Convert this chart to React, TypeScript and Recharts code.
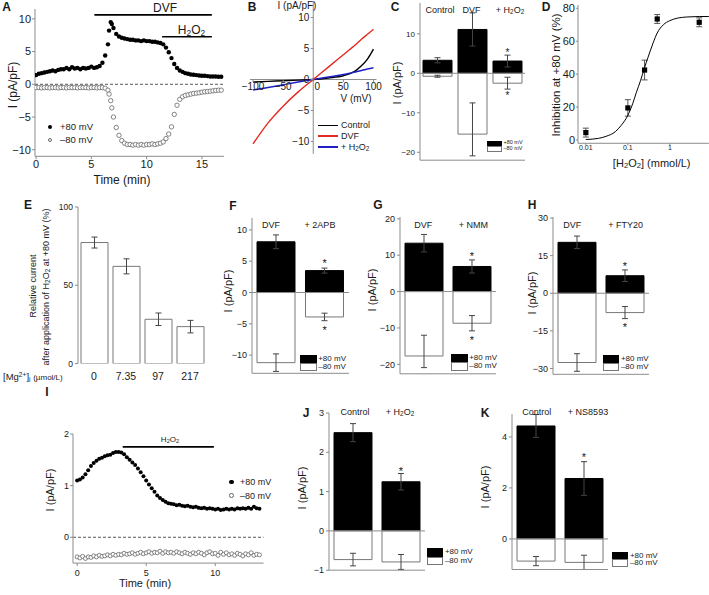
import React from 'react';
import {
  BarChart,
  Bar,
  ErrorBar,
  XAxis,
  YAxis,
  ReferenceLine,
  ReferenceDot,
  ScatterChart,
  Scatter,
  LineChart,
  Line,
} from 'recharts';

const FONT = '"Liberation Sans", Arial, Helvetica, sans-serif';
const INK = '#1a1a1a';
const AXIS = '#8c8c8c';
const M = 12;

// ---- A: time course, DVF then H2O2
const aTime = [0, 0.25, 0.5, 0.75, 1, 1.25, 1.5, 1.75, 2, 2.25, 2.5, 2.75, 3, 3.25, 3.5, 3.75, 4, 4.25, 4.5, 4.75, 5, 5.25, 5.5, 5.75, 6, 6.25, 6.5, 6.6, 6.75, 6.85, 7, 7.25, 7.5, 7.75, 8, 8.25, 8.5, 8.75, 9, 9.25, 9.5, 9.75, 10, 10.25, 10.5, 10.75, 11, 11.25, 11.5, 11.75, 12, 12.25, 12.5, 12.75, 13, 13.25, 13.5, 13.75, 14, 14.25, 14.5, 14.75, 15, 15.25, 15.5, 15.75, 16, 16.25, 16.5, 16.75];
const aPos80 = [1.4, 1.6, 1.7, 1.8, 1.9, 2.0, 2.1, 2.0, 2.2, 2.3, 2.3, 2.5, 2.3, 2.6, 2.4, 2.5, 2.3, 2.5, 2.4, 2.5, 2.7, 2.5, 2.6, 2.8, 3.3, 4.4, 6.1, 8.2, 9.5, 9.2, 8.6, 7.7, 7.3, 7.1, 7.0, 6.9, 6.8, 6.8, 6.7, 6.7, 6.6, 6.7, 6.6, 6.6, 6.5, 6.5, 6.4, 6.3, 6.1, 5.6, 4.9, 4.0, 3.1, 2.5, 2.1, 1.9, 1.7, 1.6, 1.5, 1.45, 1.4, 1.35, 1.3, 1.3, 1.25, 1.2, 1.2, 1.2, 1.15, 1.15];
const aNeg80 = [-0.5, -0.5, -0.55, -0.5, -0.5, -0.55, -0.5, -0.5, -0.55, -0.5, -0.5, -0.55, -0.5, -0.5, -0.5, -0.55, -0.5, -0.5, -0.5, -0.55, -0.5, -0.5, -0.55, -0.5, -0.5, -0.6, -0.9, -1.5, -2.5, -3.6, -5.0, -6.6, -7.8, -8.6, -9.0, -9.2, -9.2, -9.3, -9.2, -9.3, -9.2, -9.3, -9.2, -9.2, -9.1, -9.2, -9.1, -9.0, -8.8, -8.3, -7.6, -6.5, -4.6, -3.2, -2.3, -1.9, -1.7, -1.6, -1.5, -1.4, -1.35, -1.3, -1.2, -1.15, -1.1, -1.05, -1.0, -0.95, -0.9, -0.9];
const aDvf = { from: 5.27, to: 15.9 };
const aH2o2 = { from: 11.4, to: 15.9 };

// ---- B: I-V relations
const bVolt = [-100, -75, -50, -25, 0, 25, 50, 60, 70, 80, 90, 100];
const bControl = [-0.4, -0.3, -0.2, -0.1, 0, 0.25, 0.6, 0.9, 1.4, 2.2, 3.3, 4.9];
const bDvf = [-10.4, -7.0, -4.3, -2.0, 0, 2.0, 4.0, 4.8, 5.6, 6.5, 7.3, 8.1];
const bH2o2 = [-1.7, -1.3, -0.85, -0.4, 0, 0.4, 0.8, 1.0, 1.2, 1.45, 1.7, 1.9];
const bTicksX = [-100, -50, 0, 50, 100];
const bTicksY = [10, 5, 0, -5, -10];

// ---- C
const cCats = ['Control', 'DVF', 'H2O2'];
const cPos = [3.3, 11.1, 3.1];
const cPosErr = [0.65, 4.2, 1.5];
const cNeg = [-0.75, -15.4, -2.5];
const cNegErr: (number | number[])[] = [0.25, [5.5, 7.9], 1.5];
const cStarUp = [false, false, true];
const cStarDown = [false, false, true];

// ---- D: dose response
const dConc = [0.01, 0.1, 0.25, 0.5, 5];
const dInhib = [4.5, 19.5, 42.5, 73.5, 71.5];
const dErr = [2.7, 5, 6, 2.7, 2.7];
const dFitX = [0.01, 0.02, 0.03, 0.05, 0.07, 0.1, 0.13, 0.16, 0.2, 0.25, 0.3, 0.4, 0.5, 0.7, 1, 1.5, 2, 3, 5, 8.5];
const dFitY = [0.3, 1.0, 2.2, 5.0, 9, 15, 22, 29, 36, 44, 50, 59, 65, 70, 72.5, 74, 74.5, 74.8, 75, 75];
const dTicks = [0.01, 0.1, 1];

// ---- E: Mg dependence
const eCats = ['0', '7.35', '97', '217'];
const eVals = [77.3, 62.1, 28.3, 23.6];
const eErr = [3.5, 4.8, 4, 4];

// ---- F, G, H
const fCats = ['DVF', '2APB'];
const fPos = [8.1, 3.5];
const fPosErr = [1.1, 0.4];
const fNeg = [-11.2, -3.9];
const fNegErr = [1.4, 0.6];

const gCats = ['DVF', 'NMM'];
const gPos = [13.3, 6.9];
const gPosErr = [2.4, 1.8];
const gNeg = [-17.7, -8.7];
const gNegErr: (number | number[])[] = [[3.2, 5.7], 2.1];

const hCats = ['DVF', 'FTY20'];
const hPos = [20.3, 7.0];
const hPosErr = [2.5, 2.3];
const hNeg = [-27.6, -7.7];
const hNegErr = [3.5, 2.4];

// ---- I: time course, H2O2 alone
const iTime = [0, 0.2, 0.4, 0.6, 0.8, 1, 1.2, 1.4, 1.6, 1.8, 2, 2.2, 2.4, 2.6, 2.8, 3, 3.2, 3.4, 3.6, 3.8, 4, 4.2, 4.4, 4.6, 4.8, 5, 5.2, 5.4, 5.6, 5.8, 6, 6.2, 6.4, 6.6, 6.8, 7, 7.2, 7.4, 7.6, 7.8, 8, 8.2, 8.4, 8.6, 8.8, 9, 9.2, 9.4, 9.6, 9.8, 10, 10.2, 10.4, 10.6, 10.8, 11, 11.2, 11.4, 11.6, 11.8, 12, 12.2, 12.4, 12.6, 12.8, 13, 13.2];
const iPos80 = [1.1, 1.12, 1.16, 1.22, 1.3, 1.38, 1.44, 1.48, 1.52, 1.54, 1.57, 1.59, 1.6, 1.63, 1.65, 1.65, 1.64, 1.61, 1.55, 1.5, 1.45, 1.4, 1.33, 1.26, 1.18, 1.1, 1.02, 0.95, 0.88, 0.81, 0.76, 0.72, 0.69, 0.66, 0.65, 0.64, 0.62, 0.63, 0.61, 0.6, 0.61, 0.59, 0.58, 0.59, 0.57, 0.56, 0.57, 0.55, 0.56, 0.55, 0.54, 0.55, 0.53, 0.54, 0.55, 0.54, 0.55, 0.54, 0.56, 0.55, 0.56, 0.55, 0.57, 0.55, 0.59, 0.56, 0.55];
const iNeg80 = [-0.38, -0.4, -0.37, -0.41, -0.38, -0.39, -0.36, -0.38, -0.35, -0.37, -0.36, -0.34, -0.36, -0.33, -0.35, -0.33, -0.34, -0.31, -0.33, -0.32, -0.3, -0.33, -0.31, -0.29, -0.32, -0.3, -0.28, -0.31, -0.29, -0.3, -0.27, -0.31, -0.28, -0.3, -0.29, -0.31, -0.28, -0.3, -0.32, -0.29, -0.31, -0.33, -0.3, -0.32, -0.29, -0.31, -0.34, -0.3, -0.28, -0.32, -0.31, -0.35, -0.29, -0.33, -0.3, -0.34, -0.32, -0.35, -0.31, -0.33, -0.36, -0.32, -0.34, -0.3, -0.35, -0.33, -0.34];
const iH2o2 = { from: 3.3, to: 9.9 };

// ---- J, K
const jCats = ['Control', 'H2O2'];
const jPos = [2.5, 1.25];
const jPosErr = [0.23, 0.21];
const jNeg = [-0.73, -0.79];
const jNegErr = [0.16, 0.19];

const kCats = ['Control', 'NS8593'];
const kPos = [4.43, 2.37];
const kPosErr = [0.45, 0.66];
const kNeg = [-0.87, -0.92];
const kNegErr = [0.18, 0.28];

type Box = { l: number; t: number; r: number; b: number };

function frame(p: Box, yw: number, xh: number) {
  return {
    pos: { position: 'absolute' as const, left: p.l - M - yw, top: p.t - M },
    width: p.r - p.l + 2 * M + yw,
    height: p.b - p.t + 2 * M + xh,
    margin: { top: M, right: M, bottom: M, left: M },
  };
}

const minus = (v: number) => String(v).replace('-', '\u2212');
const tickFont = (size: number) => ({ fontSize: size, fill: INK, fontFamily: FONT });
const errLo = (e: number | number[]) => (Array.isArray(e) ? e[0] : e);

const subStyle = { fontSize: '0.7em', verticalAlign: '-0.25em', lineHeight: 0 };
const H2O2 = () => (
  <>
    H<sub style={subStyle}>2</sub>O<sub style={subStyle}>2</sub>
  </>
);

function Txt({
  x,
  y,
  size = 9,
  rot = 0,
  bold = false,
  anchor = 'middle',
  children,
}: {
  x: number;
  y: number;
  size?: number;
  rot?: number;
  bold?: boolean;
  anchor?: 'start' | 'middle' | 'end';
  children: React.ReactNode;
}) {
  const tx = anchor === 'middle' ? '-50%' : anchor === 'end' ? '-100%' : '0%';
  return (
    <div
      style={{
        position: 'absolute',
        left: x,
        top: y,
        transform: `translate(${tx}, -50%) rotate(${rot}deg)`,
        fontSize: size,
        fontWeight: bold ? 700 : 400,
        lineHeight: 1,
        whiteSpace: 'nowrap',
        color: INK,
      }}
    >
      {children}
    </div>
  );
}

function BarKey({ x, y, w, h, size }: { x: number; y: number; w: number; h: number; size: number }) {
  return (
    <>
      <div style={{ position: 'absolute', left: x, top: y, width: w, height: h, background: '#000' }} />
      <div
        style={{
          position: 'absolute',
          left: x,
          top: y + h,
          width: w,
          height: h,
          background: '#fff',
          border: '1px solid #777',
          boxSizing: 'border-box',
        }}
      />
      <Txt x={x + w + 1.5} y={y + h / 2} size={size} anchor="start">+80 mV</Txt>
      <Txt x={x + w + 1.5} y={y + 1.5 * h} size={size} anchor="start">–80 mV</Txt>
    </>
  );
}

function DotKey({ x, y, open }: { x: number; y: number; open?: boolean }) {
  return (
    <div
      style={{
        position: 'absolute',
        left: x - 2.3,
        top: y - 2.3,
        width: 4.6,
        height: 4.6,
        borderRadius: '50%',
        boxSizing: 'border-box',
        background: open ? '#fff' : '#000',
        border: open ? '0.8px solid #666' : 'none',
      }}
    />
  );
}

const starShape = (gap: number, fs: number, up: boolean) => (s: any) => (
  <text
    x={s.cx}
    y={up ? s.cy - gap + 0.57 * fs : s.cy + gap + 0.57 * fs}
    textAnchor="middle"
    fontSize={fs}
    fontFamily={FONT}
    style={{ fill: INK, stroke: 'none' }}
  >
    *
  </text>
);

function BarPanel({
  p,
  cats,
  pos,
  posErr,
  neg,
  negErr,
  starsUp,
  starsDown,
  domain,
  ticks,
  barSize,
  fs,
  starGap = 6,
  starFs = 11,
}: {
  p: Box;
  cats: string[];
  pos: number[];
  posErr: number[];
  neg: number[];
  negErr: (number | number[])[];
  starsUp: boolean[];
  starsDown: boolean[];
  domain: [number, number];
  ticks: number[];
  barSize: number;
  fs: number;
  starGap?: number;
  starFs?: number;
}) {
  const rows = cats.map((name, i) => ({ name, pos: pos[i], posErr: posErr[i], neg: neg[i], negErr: negErr[i] }));
  const f = frame(p, 30, 2);
  return (
    <div style={f.pos}>
      <BarChart width={f.width} height={f.height} margin={f.margin} data={rows} stackOffset="sign" barSize={barSize}>
        <XAxis dataKey="name" tick={false} tickLine={false} height={2} axisLine={{ stroke: AXIS }} />
        <YAxis
          width={30}
          type="number"
          domain={domain}
          ticks={ticks}
          interval={0}
          allowDataOverflow
          tickFormatter={minus}
          tick={tickFont(fs)}
          tickSize={3}
          tickMargin={2}
          axisLine={{ stroke: AXIS }}
          tickLine={{ stroke: AXIS }}
        />
        <ReferenceLine y={0} stroke={AXIS} />
        <Bar dataKey="pos" stackId="s" fill="#000" stroke="#000" isAnimationActive={false}>
          <ErrorBar dataKey="posErr" width={3} stroke="#444" strokeWidth={1} />
        </Bar>
        <Bar dataKey="neg" stackId="s" fill="#fff" stroke="#777" isAnimationActive={false}>
          <ErrorBar dataKey="negErr" width={3} stroke="#444" strokeWidth={1} />
        </Bar>
        {cats.map((c, i) =>
          starsUp[i] ? (
            <ReferenceDot key={c + 'u'} x={c} y={pos[i] + posErr[i]} r={0} shape={starShape(starGap, starFs, true)} />
          ) : null,
        )}
        {cats.map((c, i) =>
          starsDown[i] ? (
            <ReferenceDot
              key={c + 'd'}
              x={c}
              y={neg[i] - errLo(negErr[i])}
              r={0}
              shape={starShape(starGap, starFs, false)}
            />
          ) : null,
        )}
      </BarChart>
    </div>
  );
}

const dotShape = (r: number, open: boolean) => (s: any) =>
  open ? (
    <circle cx={s.cx} cy={s.cy} r={r} fill="#fff" stroke="#666" strokeWidth={0.8} />
  ) : (
    <circle cx={s.cx} cy={s.cy} r={r} fill="#000" />
  );

function TimeCourse({
  p,
  time,
  pos,
  neg,
  xDomain,
  yDomain,
  xTicks,
  yTicks,
  fs,
  r,
  bars,
  xMargin,
}: {
  p: Box;
  time: number[];
  pos: number[];
  neg: number[];
  xDomain: [number, number];
  yDomain: [number, number];
  xTicks: number[];
  yTicks: number[];
  fs: number;
  r: number;
  bars: { from: number; to: number; at: number }[];
  xMargin: number;
}) {
  const f = frame(p, 30, 20);
  const posRows = time.map((x, i) => ({ x, y: pos[i] }));
  const negRows = time.map((x, i) => ({ x, y: neg[i] }));
  return (
    <div style={f.pos}>
      <ScatterChart width={f.width} height={f.height} margin={f.margin}>
        <XAxis
          type="number"
          dataKey="x"
          domain={xDomain}
          ticks={xTicks}
          interval={0}
          allowDataOverflow
          height={20}
          tick={tickFont(fs)}
          tickSize={3}
          tickMargin={xMargin}
          axisLine={{ stroke: AXIS }}
          tickLine={{ stroke: AXIS }}
        />
        <YAxis
          type="number"
          dataKey="y"
          domain={yDomain}
          ticks={yTicks}
          interval={0}
          allowDataOverflow
          width={30}
          tickFormatter={minus}
          tick={tickFont(fs)}
          tickSize={3}
          tickMargin={1}
          axisLine={{ stroke: AXIS }}
          tickLine={{ stroke: AXIS }}
        />
        <ReferenceLine y={0} stroke="#555" strokeDasharray="3 2" />
        {bars.map((b, i) => (
          <ReferenceLine
            key={i}
            segment={[
              { x: b.from, y: b.at },
              { x: b.to, y: b.at },
            ]}
            stroke="#000"
            strokeWidth={1.6}
          />
        ))}
        <Scatter data={negRows} shape={dotShape(r, true)} isAnimationActive={false} />
        <Scatter data={posRows} shape={dotShape(r, false)} isAnimationActive={false} />
      </ScatterChart>
    </div>
  );
}

function PanelB() {
  const p = { l: 249.5, t: 1.5, r: 376, b: 153.4 };
  const f = frame(p, 0, 0);
  const rows = bVolt.map((v, i) => ({ v, control: bControl[i], dvf: bDvf[i], h2o2: bH2o2[i] }));
  return (
    <div style={f.pos}>
      <LineChart width={f.width} height={f.height} margin={f.margin} data={rows}>
        <XAxis type="number" dataKey="v" domain={[-105, 105]} hide allowDataOverflow />
        <YAxis type="number" domain={[-12, 12.5]} hide allowDataOverflow />
        <ReferenceLine x={0} stroke={AXIS} />
        <ReferenceLine y={0} stroke={AXIS} />
        {bTicksX.map((v) => (
          <ReferenceDot
            key={'x' + v}
            x={v}
            y={0}
            r={0}
            shape={(s: any) => (
              <g>
                <line x1={s.cx} x2={s.cx} y1={s.cy} y2={s.cy + 2.5} stroke={AXIS} />
                <text x={s.cx + (v === 0 ? 4 : 0)} y={s.cy + 11} textAnchor="middle" fontSize={10} fill={INK} fontFamily={FONT}>
                  {minus(v)}
                </text>
              </g>
            )}
          />
        ))}
        {bTicksY.map((v) => (
          <ReferenceDot
            key={'y' + v}
            x={0}
            y={v}
            r={0}
            shape={(s: any) => (
              <g>
                <line x1={s.cx - 2.5} x2={s.cx} y1={s.cy} y2={s.cy} stroke={AXIS} />
                <text x={s.cx - 4} y={s.cy + 3.5} textAnchor="end" fontSize={10} fill={INK} fontFamily={FONT}>
                  {minus(v)}
                </text>
              </g>
            )}
          />
        ))}
        <Line type="monotone" dataKey="control" stroke="#000" strokeWidth={1.4} dot={false} isAnimationActive={false} />
        <Line type="monotone" dataKey="h2o2" stroke="#1f1fc8" strokeWidth={1.4} dot={false} isAnimationActive={false} />
        <Line type="monotone" dataKey="dvf" stroke="#e42a22" strokeWidth={1.4} dot={false} isAnimationActive={false} />
      </LineChart>
    </div>
  );
}

function PanelD() {
  const p = { l: 578, t: 5, r: 708.9, b: 143.3 };
  const f = frame(p, 30, 16);
  const pts = dConc.map((x, i) => ({ x, y: dInhib[i], err: dErr[i] }));
  const fit = dFitX.map((x, i) => ({ x, y: dFitY[i] }));
  return (
    <div style={f.pos}>
      <ScatterChart width={f.width} height={f.height} margin={f.margin}>
        <XAxis
          type="number"
          dataKey="x"
          scale="log"
          domain={[0.0065, 8.5]}
          allowDataOverflow
          ticks={dTicks}
          interval={0}
          tickFormatter={(v: number) => String(v)}
          height={16}
          tick={tickFont(7)}
          tickSize={2}
          tickMargin={0}
          axisLine={{ stroke: AXIS }}
          tickLine={{ stroke: AXIS }}
        />
        <YAxis
          type="number"
          dataKey="y"
          domain={[-2, 82]}
          allowDataOverflow
          ticks={[0, 20, 40, 60, 80]}
          interval={0}
          width={30}
          tick={tickFont(11)}
          tickSize={2}
          tickMargin={1}
          axisLine={{ stroke: AXIS }}
          tickLine={{ stroke: AXIS }}
        />
        <Scatter
          data={fit}
          line={{ stroke: '#000', strokeWidth: 1 }}
          lineJointType="monotoneX"
          shape={() => <g />}
          isAnimationActive={false}
        />
        <Scatter
          data={pts}
          shape={(s: any) => <rect x={s.cx - 2.6} y={s.cy - 2.6} width={5.2} height={5.2} fill="#000" />}
          isAnimationActive={false}
        >
          <ErrorBar dataKey="err" direction="y" width={3} stroke="#555" strokeWidth={1} />
        </Scatter>
      </ScatterChart>
    </div>
  );
}

function PanelE() {
  const p = { l: 77.7, t: 206.7, r: 205.7, b: 363.3 };
  const f = frame(p, 30, 22);
  const rows = eCats.map((name, i) => ({ name, v: eVals[i], err: eErr[i] }));
  return (
    <div style={f.pos}>
      <BarChart width={f.width} height={f.height} margin={f.margin} data={rows} barSize={27}>
        <XAxis
          dataKey="name"
          height={22}
          interval={0}
          axisLine={false}
          tickLine={false}
          tickSize={0}
          tickMargin={9}
          tick={tickFont(10.5)}
        />
        <YAxis
          type="number"
          domain={[0, 100]}
          ticks={[0, 50, 100]}
          interval={0}
          allowDataOverflow
          width={30}
          tick={tickFont(8.5)}
          tickSize={3}
          tickMargin={2}
          axisLine={{ stroke: AXIS }}
          tickLine={{ stroke: AXIS }}
        />
        <Bar dataKey="v" fill="#fff" stroke="#777" isAnimationActive={false}>
          <ErrorBar dataKey="err" width={3} stroke="#444" strokeWidth={1} />
        </Bar>
      </BarChart>
    </div>
  );
}

export default function App() {
  const sup = { fontSize: '0.7em', verticalAlign: '0.45em', lineHeight: 0 };
  return (
    <div
      style={{
        position: 'absolute',
        left: 0,
        top: 0,
        width: 709,
        height: 595,
        overflow: 'hidden',
        background: '#fff',
        fontFamily: FONT,
        color: INK,
      }}
    >
      {/* A */}
      <TimeCourse
        p={{ l: 35, t: 9.2, r: 224, b: 156.5 }}
        time={aTime}
        pos={aPos80}
        neg={aNeg80}
        xDomain={[-0.1, 17]}
        yDomain={[-11, 11.5]}
        xTicks={[0, 5, 10, 15]}
        yTicks={[-10, -5, 0, 5, 10]}
        fs={11}
        r={2.2}
        xMargin={1}
        bars={[
          { ...aDvf, at: 10.6 },
          { ...aH2o2, at: 7.25 },
        ]}
      />
      <PanelB />
      <BarPanel
        p={{ l: 420, t: 3, r: 525, b: 160.2 }}
        cats={cCats}
        pos={cPos}
        posErr={cPosErr}
        neg={cNeg}
        negErr={cNegErr}
        starsUp={cStarUp}
        starsDown={cStarDown}
        domain={[-22, 17.8]}
        ticks={[-20, -10, 0, 10]}
        barSize={29}
        fs={8}
        starGap={4.5}
        starFs={10}
      />
      <PanelD />
      <PanelE />
      <BarPanel
        p={{ l: 251.7, t: 218, r: 348.7, b: 373.3 }}
        cats={fCats}
        pos={fPos}
        posErr={fPosErr}
        neg={fNeg}
        negErr={fNegErr}
        starsUp={[false, true]}
        starsDown={[false, true]}
        domain={[-12.9, 11.9]}
        ticks={[-10, -5, 0, 5, 10]}
        barSize={38}
        fs={9}
        starGap={7}
      />
      <BarPanel
        p={{ l: 400, t: 216.5, r: 496, b: 373.3 }}
        cats={gCats}
        pos={gPos}
        posErr={gPosErr}
        neg={gNeg}
        negErr={gNegErr}
        starsUp={[false, true]}
        starsDown={[false, true]}
        domain={[-22.6, 20.5]}
        ticks={[-20, -10, 0, 10, 20]}
        barSize={38}
        fs={9}
        starGap={6.5}
      />
      <BarPanel
        p={{ l: 553.3, t: 217, r: 649.3, b: 374.3 }}
        cats={hCats}
        pos={hPos}
        posErr={hPosErr}
        neg={hNeg}
        negErr={hNegErr}
        starsUp={[false, true]}
        starsDown={[false, true]}
        domain={[-32.3, 30.4]}
        ticks={[-30, -15, 0, 15, 30]}
        barSize={38}
        fs={9}
        starGap={6.5}
      />
      <TimeCourse
        p={{ l: 72.7, t: 434, r: 263.3, b: 563.1 }}
        time={iTime}
        pos={iPos80}
        neg={iNeg80}
        xDomain={[-0.3, 13.5]}
        yDomain={[-0.5, 2]}
        xTicks={[0, 5, 10]}
        yTicks={[0, 1, 2]}
        fs={9}
        r={2}
        xMargin={3.5}
        bars={[{ ...iH2o2, at: 1.75 }]}
      />
      <BarPanel
        p={{ l: 328.5, t: 412.8, r: 424.5, b: 570 }}
        cats={jCats}
        pos={jPos}
        posErr={jPosErr}
        neg={jNeg}
        negErr={jNegErr}
        starsUp={[false, true]}
        starsDown={[false, false]}
        domain={[-1, 3]}
        ticks={[-1, 0, 1, 2, 3]}
        barSize={38}
        fs={9}
        starGap={5}
      />
      <BarPanel
        p={{ l: 512.3, t: 414.4, r: 608.3, b: 569.9 }}
        cats={kCats}
        pos={kPos}
        posErr={kPosErr}
        neg={kNeg}
        negErr={kNegErr}
        starsUp={[false, true]}
        starsDown={[false, false]}
        domain={[-1.2, 4.9]}
        ticks={[0, 2, 4]}
        barSize={38}
        fs={9}
        starGap={6.5}
      />

      {/* panel letters */}
      <Txt x={6.5} y={7} size={12} bold>A</Txt>
      <Txt x={252} y={7} size={12} bold>B</Txt>
      <Txt x={395} y={7} size={12} bold>C</Txt>
      <Txt x={546} y={7} size={12} bold>D</Txt>
      <Txt x={28} y={205} size={12} bold>E</Txt>
      <Txt x={233} y={206} size={12} bold>F</Txt>
      <Txt x={378} y={205} size={12} bold>G</Txt>
      <Txt x={532} y={205} size={12} bold>H</Txt>
      <Txt x={47} y={392} size={12} bold>I</Txt>
      <Txt x={306} y={413} size={12} bold>J</Txt>
      <Txt x={485} y={413} size={12} bold>K</Txt>

      {/* A texts */}
      <Txt x={165} y={8} size={12}>DVF</Txt>
      <Txt x={191.5} y={30} size={12}><H2O2 /></Txt>
      <Txt x={13} y={85} size={12} rot={-90}>I (pA/pF)</Txt>
      <Txt x={122} y={180} size={12}>Time (min)</Txt>
      <DotKey x={50} y={127} />
      <Txt x={60} y={127} size={9.5} anchor="start">+80 mV</Txt>
      <DotKey x={50} y={140} open />
      <Txt x={60} y={140} size={9.5} anchor="start">–80 mV</Txt>

      {/* B texts */}
      <Txt x={297} y={6} size={10}>I (pA/pF)</Txt>
      <Txt x={356} y={99} size={10}>V (mV)</Txt>
      <div style={{ position: 'absolute', left: 318, top: 124.6, width: 20, height: 1.5, background: '#000' }} />
      <div style={{ position: 'absolute', left: 318, top: 135.3, width: 20, height: 1.5, background: '#e42a22' }} />
      <div style={{ position: 'absolute', left: 318, top: 146, width: 20, height: 1.5, background: '#1f1fc8' }} />
      <Txt x={341} y={125.3} size={9} anchor="start">Control</Txt>
      <Txt x={341} y={136} size={9} anchor="start">DVF</Txt>
      <Txt x={341} y={146.7} size={9} anchor="start">+ <H2O2 /></Txt>

      {/* C texts */}
      <Txt x={440} y={10} size={9}>Control</Txt>
      <Txt x={471.5} y={10} size={9}>DVF</Txt>
      <Txt x={510} y={10} size={9}>+ <H2O2 /></Txt>
      <Txt x={397} y={83} size={11} rot={-90}>I (pA/pF)</Txt>
      <BarKey x={487} y={140.7} w={15} h={5.5} size={5.5} />

      {/* D texts */}
      <Txt x={556.7} y={75} size={11.5} rot={-90}>Inhibition at +80 mV (%)</Txt>
      <Txt x={651.7} y={163} size={11}>[<H2O2 />] (mmol/L)</Txt>

      {/* E texts */}
      <Txt x={33} y={286} size={9} rot={-90}>Relative current</Txt>
      <Txt x={46} y={287} size={9} rot={-90}>after application of <H2O2 /> at +80 mV (%)</Txt>
      <Txt x={3} y={377} size={9.5} anchor="start">
        [Mg<sup style={sup}>2+</sup>]<sub style={subStyle}>i</sub> <span style={{ fontSize: 8 }}>(µmol/L)</span>
      </Txt>

      {/* F texts */}
      <Txt x={271} y={225} size={9}>DVF</Txt>
      <Txt x={320} y={225} size={9}>+ 2APB</Txt>
      <Txt x={228} y={291} size={11} rot={-90}>I (pA/pF)</Txt>
      <BarKey x={300} y={355} w={16.7} h={8} size={8} />

      {/* G texts */}
      <Txt x={423.3} y={225} size={9}>DVF</Txt>
      <Txt x={473.3} y={225} size={9}>+ NMM</Txt>
      <Txt x={371.7} y={290} size={11} rot={-90}>I (pA/pF)</Txt>
      <BarKey x={451} y={354} w={16.7} h={8.3} size={8} />

      {/* H texts */}
      <Txt x={572.3} y={225} size={9}>DVF</Txt>
      <Txt x={625.7} y={225} size={9}>+ FTY20</Txt>
      <Txt x={531.7} y={293} size={11} rot={-90}>I (pA/pF)</Txt>
      <BarKey x={602.7} y={355} w={16.7} h={8} size={8} />

      {/* I texts */}
      <Txt x={170} y={440} size={8}><H2O2 /></Txt>
      <Txt x={50} y={490} size={11} rot={-90}>I (pA/pF)</Txt>
      <Txt x={145} y={583} size={11}>Time (min)</Txt>
      <DotKey x={231.7} y={482} />
      <Txt x={240} y={482} size={9} anchor="start">+80 mV</Txt>
      <DotKey x={231.7} y={495.5} open />
      <Txt x={240} y={495.5} size={9} anchor="start">–80 mV</Txt>

      {/* J texts */}
      <Txt x={355} y={411.7} size={9}>Control</Txt>
      <Txt x={400} y={411.7} size={9}>+ <H2O2 /></Txt>
      <Txt x={301.7} y={488} size={11} rot={-90}>I (pA/pF)</Txt>
      <BarKey x={426.7} y={548.3} w={16.7} h={8.3} size={8} />

      {/* K texts */}
      <Txt x={536.7} y={411.7} size={9}>Control</Txt>
      <Txt x={588} y={411.7} size={9}>+ NS8593</Txt>
      <Txt x={485} y={487} size={11} rot={-90}>I (pA/pF)</Txt>
      <BarKey x={611.7} y={551.7} w={16.7} h={7.7} size={8} />
    </div>
  );
}
